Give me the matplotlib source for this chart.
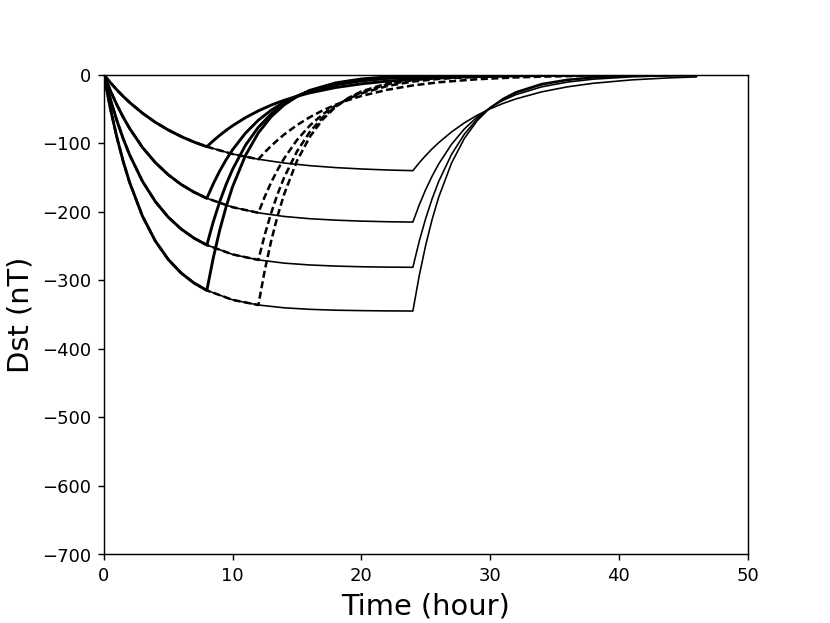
import numpy as np
import matplotlib
matplotlib.use("Agg")
import matplotlib.pyplot as plt

# main phase, hours since storm onset
t_main = [0, 0.5, 1, 1.5, 2, 3, 4, 5, 6, 7, 8, 10, 12, 14, 16, 18, 20, 22, 24]
dst_a = [0, -11.4, -21.9, -31.5, -40.4, -56.1, -69.4, -80.6, -90.1, -98.2, -105.0,
         -115.7, -123.3, -128.8, -132.7, -135.5, -137.5, -139.0, -140.0]
dst_b = [0, -23.0, -43.5, -61.9, -78.3, -106.1, -128.2, -145.9, -160.1, -171.3, -180.3,
         -193.3, -201.5, -206.8, -210.1, -212.2, -213.6, -214.5, -215.0]
dst_c = [0, -35.3, -66.2, -93.2, -116.8, -155.5, -185.1, -207.8, -225.1, -238.4, -248.5,
         -262.2, -270.2, -274.9, -277.6, -279.2, -280.2, -280.7, -281.0]
dst_d = [0, -48.7, -90.4, -126.3, -157.1, -206.4, -242.7, -269.5, -289.3, -303.9, -314.7,
         -328.5, -336.0, -340.1, -342.3, -343.6, -344.2, -344.6, -344.8]

# recovery phase, hours after the driver switches off
rec_off = [0, 0.5, 1, 1.5, 2, 3, 4, 5, 6, 7, 8, 10, 12, 14, 17, 20, 22, 26, 30, 34, 38]

rec8_a = [-105.0, -96.3, -88.4, -81.1, -74.4, -62.6, -52.7, -44.3, -37.3, -31.4, -26.4,
          -18.7, -13.3, -9.4, -5.6, -3.3, -2.4, -1.2, -0.6, -0.3, -0.2]
rec12_a = [-123.3, -113.1, -103.8, -95.2, -87.3, -73.5, -61.9, -52.1, -43.8, -36.9, -31.0,
           -22.0, -15.6, -11.0, -6.6, -3.9, -2.8, -1.4, -0.7]
rec24_a = [-140.0, -128.4, -117.8, -108.1, -99.2, -83.5, -70.2, -59.1, -49.8, -41.9, -35.3,
           -25.0, -17.7, -12.5, -7.5, -4.5, -3.2]

rec8_b = [-180.3, -159.1, -140.4, -123.9, -109.4, -85.2, -66.3, -51.7, -40.2, -31.3, -24.4,
          -14.8, -9.0, -5.4, -2.6, -1.2, -0.7, -0.3, -0.1, 0.0, 0.0]
rec12_b = [-201.5, -177.8, -156.9, -138.5, -122.2, -95.2, -74.1, -57.7, -45.0, -35.0, -27.3,
           -16.5, -10.0, -6.1, -2.9, -1.4, -0.8, -0.3, -0.1]
rec24_b = [-215.0, -189.7, -167.4, -147.8, -130.4, -101.6, -79.1, -61.6, -48.0, -37.4, -29.1,
           -17.7, -10.7, -6.5, -3.1, -1.4, -0.9]

rec8_c = [-248.5, -214.5, -185.2, -159.9, -138.0, -102.8, -76.6, -57.1, -42.5, -31.7, -23.6,
          -13.1, -7.3, -4.1, -1.7, -0.7, -0.4, -0.1, 0.0, 0.0, 0.0]
rec12_c = [-270.2, -233.2, -201.4, -173.8, -150.0, -111.8, -83.3, -62.1, -46.3, -34.5, -25.7,
           -14.3, -7.9, -4.4, -1.8, -0.8, -0.4, -0.1, 0.0]
rec24_c = [-281.0, -242.6, -209.4, -180.8, -156.0, -116.3, -86.7, -64.6, -48.1, -35.9, -26.7,
           -14.8, -8.2, -4.6, -1.9, -0.8, -0.4]

rec8_d = [-314.7, -267.1, -226.7, -192.4, -163.3, -117.7, -84.8, -61.1, -44.0, -31.7, -22.8,
          -11.9, -6.2, -3.2, -1.2, -0.4, -0.3, 0.0, 0.0, 0.0, 0.0]
rec12_d = [-336.0, -285.2, -242.1, -205.5, -174.4, -125.7, -90.5, -65.2, -47.0, -33.8, -24.4,
           -12.7, -6.6, -3.4, -1.3, -0.5, -0.3, 0.0, 0.0]
rec24_d = [-344.8, -292.7, -248.4, -210.8, -179.0, -129.0, -92.9, -66.9, -48.2, -34.7, -25.0,
           -13.0, -6.8, -3.5, -1.3, -0.5, -0.3]

storms = [
    (dst_a, rec8_a, rec12_a, rec24_a),
    (dst_b, rec8_b, rec12_b, rec24_b),
    (dst_c, rec8_c, rec12_c, rec24_c),
    (dst_d, rec8_d, rec12_d, rec24_d),
]


def storm_curve(t0, main, rec):
    t = np.array(t_main)
    m = np.array(main)
    keep = t <= t0
    off = np.array(rec_off[:len(rec)])
    return np.r_[t[keep], t0 + off[1:]], np.r_[m[keep], np.array(rec)[1:]]


fig, ax = plt.subplots(figsize=(6.4, 4.8))

for main, r8, r12, r24 in storms:
    x, y = storm_curve(24, main, r24)
    ax.plot(x, y, color='k', lw=0.9)
    x, y = storm_curve(12, main, r12)
    ax.plot(x, y, color='k', lw=1.4, ls=(0, (2.8, 1.4)))
    x, y = storm_curve(8, main, r8)
    ax.plot(x, y, color='k', lw=1.6)

ax.set_xlim(0, 50)
ax.set_ylim(-700, 0)
ax.set_xlabel('Time (hour)', fontsize=16)
ax.set_ylabel('Dst (nT)', fontsize=16)

fig.savefig('out.png', dpi=129.8)
